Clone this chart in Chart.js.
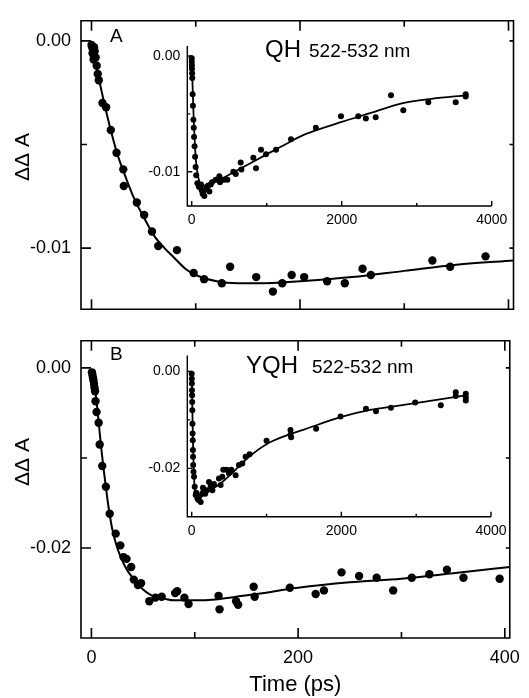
<!DOCTYPE html>
<html>
<head>
<meta charset="utf-8">
<script src="https://cdn.jsdelivr.net/npm/chart.js@4.4.0/dist/chart.umd.min.js"></script>
<style>
  body { margin: 0; background: #fff; }
  #wrap { position: relative; width: 529px; height: 698px; overflow: hidden; }
  canvas { position: absolute; }
</style>
</head>
<body>
<div id="wrap">
  <canvas id="mainA" width="529" height="330" style="left:0;top:0"></canvas>
  <canvas id="mainB" width="529" height="378" style="left:0;top:320px"></canvas>
  <canvas id="insetA" width="400" height="210" style="left:130px;top:30px"></canvas>
  <canvas id="insetB" width="400" height="210" style="left:130px;top:340px"></canvas>
</div>
<script>
// ---- panel A (QH), main: 0-400 ps
const aTime = [0, 0.5, 1, 1.5, 2, 2.5, 3, 4, 5, 6, 7, 10.5, 14, 18.5, 24, 30.5, 31, 43.5, 50.5, 58, 64, 82, 98, 108, 125, 133, 158, 174, 183, 192, 204, 226, 243, 260, 268, 327, 344, 378];
const aVal = [-0.0002, -0.0003, -0.0006, -0.0004, -0.0009, -0.0003, -0.0005, -0.0008, -0.0012, -0.0016, -0.0019, -0.0030, -0.0032, -0.0043, -0.0054, -0.0062, -0.0070, -0.0078, -0.0084, -0.0092, -0.0099, -0.0101, -0.0112, -0.0115, -0.0117, -0.0109, -0.0114, -0.0121, -0.0117, -0.0113, -0.0114, -0.0116, -0.0117, -0.0110, -0.0113, -0.0106, -0.0109, -0.0104];
const aFitTime = [1, 5, 10, 15, 20, 25, 30, 40, 50, 60, 70, 80, 90, 100, 120, 140, 160, 200, 250, 300, 350, 405];
const aFitVal = [-0.0002, -0.0013, -0.0025, -0.0036, -0.0046, -0.0055, -0.0062, -0.0075, -0.0085, -0.0094, -0.0100, -0.0105, -0.0110, -0.0113, -0.0116, -0.0117, -0.0117, -0.0116, -0.0114, -0.0111, -0.0108, -0.0106];

// ---- panel A inset: 0-4000 ps
const insetATime = [0, 1, 2, 3, 5, 7, 12, 16, 22, 27, 31, 38, 45, 52, 60, 75, 95, 110, 124, 133, 145, 155, 168, 180, 200, 220, 235, 253, 270, 320, 368, 377, 431, 475, 555, 587, 653, 662, 821, 857, 924, 991, 1124, 1324, 1655, 1990, 2221, 2322, 2453, 2657, 2821, 3155, 3520, 3653, 3653];
const insetAVal = [-0.0002, -0.0005, -0.0008, -0.0011, -0.0015, -0.0019, -0.0033, -0.0043, -0.0055, -0.0062, -0.0070, -0.0078, -0.0087, -0.0096, -0.0103, -0.0110, -0.0113, -0.0113, -0.0111, -0.0116, -0.0119, -0.0117, -0.0121, -0.0115, -0.0114, -0.0112, -0.0117, -0.0111, -0.0109, -0.0107, -0.0104, -0.0109, -0.0107, -0.0107, -0.0100, -0.0102, -0.0092, -0.0098, -0.0088, -0.0097, -0.0081, -0.0085, -0.0081, -0.0072, -0.0062, -0.0052, -0.0052, -0.0054, -0.0053, -0.0034, -0.0047, -0.0040, -0.0040, -0.0035, -0.0033];
const insetAFitTime = [0, 10, 20, 30, 45, 60, 80, 100, 130, 160, 200, 300, 400, 600, 800, 1000, 1200, 1500, 2000, 2400, 2800, 3200, 3660];
const insetAFitVal = [0, -0.0023, -0.0043, -0.0060, -0.0080, -0.0093, -0.0102, -0.0108, -0.0111, -0.0112, -0.0111, -0.0109, -0.0106, -0.0099, -0.0092, -0.0085, -0.0078, -0.0068, -0.0057, -0.0049, -0.0041, -0.0037, -0.0034];

// ---- panel B (YQH), main: 0-400 ps
const bTime = [0.5, 1, 1.5, 2, 2.5, 3, 3.5, 4, 5, 7, 8, 10.5, 14, 17.7, 23.5, 28, 31, 34, 38.5, 41, 45, 48, 56, 62, 68, 81, 83, 90, 94, 123, 124, 140, 142, 157, 158, 192, 217, 225, 242, 259, 276, 292, 310, 327, 344, 360, 395];
const bVal = [-0.0005, -0.0008, -0.0011, -0.0014, -0.0018, -0.0022, -0.0026, -0.0037, -0.0049, -0.0061, -0.0085, -0.0109, -0.0132, -0.0162, -0.0184, -0.0197, -0.0210, -0.0212, -0.0221, -0.0235, -0.0241, -0.0239, -0.0259, -0.0255, -0.0254, -0.0250, -0.0248, -0.0255, -0.0262, -0.0253, -0.0268, -0.0259, -0.0263, -0.0243, -0.0254, -0.0244, -0.0251, -0.0247, -0.0227, -0.0231, -0.0233, -0.0247, -0.0233, -0.0229, -0.0224, -0.0233, -0.0234];
const bFitTime = [1.5, 3, 4.5, 6, 8, 10, 12, 14, 16, 18, 20, 24, 28, 32, 36, 40, 45, 50, 56, 62, 70, 80, 90, 100, 120, 140, 160, 200, 250, 300, 350, 405];
const bFitVal = [-0.0005, -0.0018, -0.0033, -0.0048, -0.0072, -0.0094, -0.0114, -0.0132, -0.0150, -0.0165, -0.0178, -0.0196, -0.0209, -0.0219, -0.0227, -0.0233, -0.0240, -0.0246, -0.0251, -0.0254, -0.0256, -0.0258, -0.0258, -0.0258, -0.0257, -0.0254, -0.0251, -0.0244, -0.0238, -0.0234, -0.0228, -0.0221];

// ---- panel B inset
const insetBTime = [0, 1, 2, 3, 5, 6, 8, 10, 12, 14, 16, 18, 20, 24, 31, 40, 53, 60, 76, 90, 100, 120, 142, 150, 164, 180, 200, 231, 253, 276, 297, 364, 387, 409, 422, 467, 497, 529, 587, 631, 676, 720, 773, 1000, 1320, 1320, 1329, 1663, 1990, 2329, 2463, 2663, 2987, 3329, 3529, 3529, 3663, 3663, 3663];
const insetBVal = [-0.0005, -0.0015, -0.0025, -0.0039, -0.0049, -0.0063, -0.0080, -0.0108, -0.0128, -0.0142, -0.0162, -0.0176, -0.0193, -0.0207, -0.0217, -0.0238, -0.0255, -0.0250, -0.0262, -0.0265, -0.0258, -0.0269, -0.0251, -0.0240, -0.0245, -0.0252, -0.0245, -0.0228, -0.0238, -0.0245, -0.0232, -0.0221, -0.0234, -0.0217, -0.0203, -0.0203, -0.0210, -0.0203, -0.0214, -0.0193, -0.0190, -0.0176, -0.0171, -0.0143, -0.0121, -0.0130, -0.0136, -0.0118, -0.0093, -0.0077, -0.0082, -0.0075, -0.0064, -0.0070, -0.0043, -0.0051, -0.0046, -0.0054, -0.0060];
const insetBFitTime = [0, 10, 20, 30, 45, 60, 80, 120, 200, 300, 400, 550, 750, 1000, 1250, 1500, 2000, 2400, 2700, 3100, 3680];
const insetBFitVal = [0, -0.0090, -0.0165, -0.0215, -0.0250, -0.0258, -0.0261, -0.0259, -0.0250, -0.0240, -0.0229, -0.0208, -0.0178, -0.0150, -0.0133, -0.0120, -0.0094, -0.0079, -0.0072, -0.0063, -0.0049];

// ---- ticks
const mainXTicks = [0, 200, 400];
const mainXMinor = [100, 300];
const yTicksA = [0, -0.01];
const yMinorA = [-0.005];
const yTicksB = [0, -0.02];
const yMinorB = [-0.01];
const insetXTicks = [0, 2000, 4000];
const insetXMinor = [1000, 3000];

const FONT = '"Liberation Sans", Arial, Helvetica, sans-serif';

const toPts = (xs, ys) => xs.map((t, i) => ({ x: t, y: ys[i] }));

// frame, inward ticks and free text
const framePlugin = {
  id: "frame",
  afterDraw(chart, args, o) {
    const { ctx, chartArea: a } = chart;
    const x = chart.scales.x;
    const y = chart.scales.y;
    ctx.save();
    ctx.strokeStyle = "#000";
    ctx.lineWidth = o.lineWidth;
    ctx.beginPath();
    if (o.box) {
      ctx.rect(a.left, a.top, a.right - a.left, a.bottom - a.top);
    } else {
      ctx.moveTo(a.left, a.top);
      ctx.lineTo(a.left, a.bottom);
      ctx.lineTo(a.right, a.bottom);
    }
    const xt = (v, len) => {
      const px = x.getPixelForValue(v);
      ctx.moveTo(px, a.bottom);
      ctx.lineTo(px, a.bottom - len);
      if (o.box) {
        ctx.moveTo(px, a.top);
        ctx.lineTo(px, a.top + len);
      }
    };
    const yt = (v, len) => {
      const py = y.getPixelForValue(v);
      ctx.moveTo(a.left, py);
      ctx.lineTo(a.left + len, py);
      if (o.box) {
        ctx.moveTo(a.right, py);
        ctx.lineTo(a.right - o.rightLen, py);
      }
    };
    o.xMajor.forEach((v) => xt(v, o.major));
    o.xMinor.forEach((v) => xt(v, o.minor));
    o.yMajor.forEach((v) => yt(v, o.major));
    o.yMinor.forEach((v) => yt(v, o.minor));
    ctx.stroke();

    ctx.fillStyle = "#000";
    (o.texts || []).forEach((t) => {
      ctx.save();
      ctx.font = t.size + "px " + FONT;
      ctx.translate(t.x, t.y);
      if (t.rot) {
        ctx.rotate(-Math.PI / 2);
        ctx.textAlign = "center";
        ctx.textBaseline = "middle";
      } else {
        ctx.textAlign = "left";
        ctx.textBaseline = "alphabetic";
      }
      ctx.fillText(t.text, 0, 0);
      ctx.restore();
    });
    ctx.restore();
  },
};

function makeChart(id, c) {
  return new Chart(document.getElementById(id), {
    type: "scatter",
    data: {
      datasets: [
        {
          data: toPts(c.fitX, c.fitY),
          showLine: true,
          pointRadius: 0,
          borderColor: "#000",
          borderWidth: c.lineW,
          cubicInterpolationMode: "monotone",
          fill: false,
        },
        {
          data: toPts(c.ptX, c.ptY),
          showLine: false,
          pointRadius: c.r,
          pointBackgroundColor: "#000",
          pointBorderWidth: 0,
        },
      ],
    },
    options: {
      responsive: false,
      animation: false,
      devicePixelRatio: 1,
      layout: { padding: c.pad },
      plugins: {
        legend: { display: false },
        tooltip: { enabled: false },
        frame: c.frame,
      },
      scales: {
        x: {
          type: "linear",
          min: c.xMin,
          max: c.xMax,
          display: c.xShow,
          grid: { display: false, drawTicks: false },
          border: { display: false },
          afterBuildTicks: (s) => {
            s.ticks = c.xLabels.map((v) => ({ value: v }));
          },
          afterFit: (s) => {
            s.height = c.xHeight;
          },
          ticks: {
            color: "#000",
            font: { family: FONT, size: c.xFont },
            padding: c.xPad,
            maxRotation: 0,
            autoSkip: false,
            callback: (v) => String(v),
          },
          title: {
            display: !!c.xTitle,
            text: c.xTitle || "",
            color: "#000",
            font: { family: FONT, size: 22 },
            padding: { top: 0, bottom: 0 },
          },
        },
        y: {
          type: "linear",
          min: c.yMin,
          max: c.yMax,
          grid: { display: false, drawTicks: false },
          border: { display: false },
          afterBuildTicks: (s) => {
            s.ticks = c.yLabels.map((v) => ({ value: v }));
          },
          afterFit: (s) => {
            s.width = c.yWidth;
          },
          ticks: {
            color: "#000",
            font: { family: FONT, size: c.yFont },
            padding: c.yPad,
            autoSkip: false,
            callback: (v) => v.toFixed(2),
          },
        },
      },
    },
    plugins: [framePlugin],
  });
}

const mainFrame = (yMajor, yMinor, texts) => ({
  box: true,
  lineWidth: 1.6,
  major: 10,
  minor: 6,
  rightLen: 4,
  xMajor: mainXTicks,
  xMinor: mainXMinor,
  yMajor: yMajor,
  yMinor: yMinor,
  texts: texts,
});

const insetFrame = (yMajor, yMinor) => ({
  box: false,
  lineWidth: 1.4,
  major: 5,
  minor: 3,
  rightLen: 0,
  xMajor: insetXTicks,
  xMinor: insetXMinor,
  yMajor: yMajor,
  yMinor: yMinor,
  texts: [],
});

makeChart("mainA", {
  ptX: aTime, ptY: aVal, fitX: aFitTime, fitY: aFitVal,
  r: 4.2, lineW: 2,
  xMin: -10.07, xMax: 404.8, yMin: -0.01295, yMax: 0.00097,
  xShow: false, xLabels: [], xHeight: 0, xFont: 18, xPad: 0,
  yLabels: yTicksA, yWidth: 81, yFont: 18, yPad: 10,
  pad: { top: 13, right: 15.5, bottom: 12, left: 0 },
  frame: mainFrame(yTicksA, yMinorA, [
    { text: "A", x: 110, y: 42, size: 19 },
    { text: "QH", x: 265, y: 57, size: 24 },
    { text: "522-532 nm", x: 309, y: 57, size: 19 },
    { text: "ΔΔ A", x: 23, y: 157, size: 21, rot: true },
  ]),
});

makeChart("mainB", {
  ptX: bTime, ptY: bVal, fitX: bFitTime, fitY: bFitVal,
  r: 4.2, lineW: 2,
  xMin: -10.07, xMax: 404.8, yMin: -0.02998, yMax: 0.0030,
  xShow: true, xLabels: mainXTicks, xHeight: 60, xFont: 18, xPad: 9,
  xTitle: "Time (ps)",
  yLabels: yTicksB, yWidth: 81, yFont: 18, yPad: 10,
  pad: { top: 14, right: 15.5, bottom: 0, left: 0 },
  frame: mainFrame(yTicksB, yMinorB, [
    { text: "B", x: 110, y: 40, size: 19 },
    { text: "YQH", x: 246, y: 53, size: 24 },
    { text: "522-532 nm", x: 312, y: 53, size: 19 },
    { text: "ΔΔ A", x: 23, y: 142, size: 21, rot: true },
  ]),
});

makeChart("insetA", {
  ptX: insetATime, ptY: insetAVal, fitX: insetAFitTime, fitY: insetAFitVal,
  r: 3, lineW: 1.8,
  xMin: -59, xMax: 4000, yMin: -0.01296, yMax: 0.00086,
  xShow: true, xLabels: insetXTicks, xHeight: 34, xFont: 14, xPad: 6,
  yLabels: yTicksA, yWidth: 57.3, yFont: 14, yPad: 7,
  pad: { top: 16, right: 38.3, bottom: 0, left: 0 },
  frame: insetFrame(yTicksA, yMinorA),
});

makeChart("insetB", {
  ptX: insetBTime, ptY: insetBVal, fitX: insetBFitTime, fitY: insetBFitVal,
  r: 3, lineW: 1.8,
  xMin: -59, xMax: 4000, yMin: -0.02995, yMax: 0.00329,
  xShow: true, xLabels: insetXTicks, xHeight: 33.3, xFont: 14, xPad: 6,
  yLabels: yTicksB, yWidth: 57.3, yFont: 14, yPad: 7,
  pad: { top: 15, right: 39, bottom: 0, left: 0 },
  frame: insetFrame(yTicksB, yMinorB),
});
</script>
</body>
</html>
